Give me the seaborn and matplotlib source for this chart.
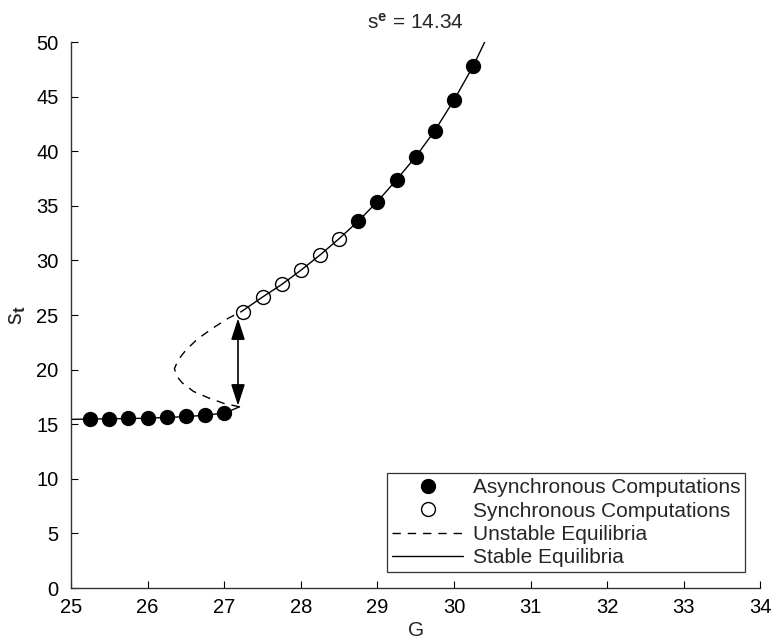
import matplotlib
matplotlib.use("Agg")
import matplotlib.pyplot as plt
import pandas as pd
import seaborn as sns

# equilibrium curve pieces (G, s_t)
stable_low_g = [25.0, 25.5, 26.0, 26.5, 26.8, 27.0, 27.1, 27.2]
stable_low_s = [15.45, 15.5, 15.55, 15.7, 15.85, 16.05, 16.3, 16.6]
unstable_g = [27.2, 27.0, 26.8, 26.6, 26.45, 26.38, 26.35, 26.4, 26.5, 26.65, 26.85, 27.05, 27.22]
unstable_s = [16.6, 16.9, 17.4, 18.0, 18.8, 19.4, 20.1, 20.9, 21.8, 22.8, 23.8, 24.7, 25.3]
stable_up_g = [27.22, 27.5, 27.75, 28.0, 28.25, 28.5, 28.75, 29.0, 29.25, 29.5, 29.75, 30.0, 30.25, 30.4]
stable_up_s = [25.3, 26.65, 27.8, 29.1, 30.5, 32.0, 33.6, 35.4, 37.4, 39.5, 41.9, 44.7, 47.8, 50.0]

# computed points
async_g = [25.25, 25.5, 25.75, 26.0, 26.25, 26.5, 26.75, 27.0,
           28.75, 29.0, 29.25, 29.5, 29.75, 30.0, 30.25]
async_s = [15.5, 15.5, 15.55, 15.6, 15.65, 15.75, 15.85, 16.05,
           33.6, 35.4, 37.4, 39.5, 41.9, 44.7, 47.8]
sync_g = [27.25, 27.5, 27.75, 28.0, 28.25, 28.5]
sync_s = [25.3, 26.65, 27.8, 29.1, 30.5, 32.0]

jump_g = 27.18
jump_lo, jump_hi = 16.7, 24.7

sns.set_style("ticks")
plt.rcParams["font.family"] = ["Liberation Sans", "DejaVu Sans"]
plt.rcParams["mathtext.fontset"] = "custom"
plt.rcParams["mathtext.rm"] = "Liberation Sans"
plt.rcParams["mathtext.bf"] = "Liberation Sans:bold"
plt.rcParams["mathtext.default"] = "regular"
plt.rcParams["xtick.direction"] = "in"
plt.rcParams["ytick.direction"] = "in"

fig = plt.figure(figsize=(7.72, 6.43), dpi=100)
ax = fig.add_axes([0.092, 0.0855, 0.893, 0.849])

low = pd.DataFrame({"G": stable_low_g, "s": stable_low_s})
unst = pd.DataFrame({"G": unstable_g, "s": unstable_s})
up = pd.DataFrame({"G": stable_up_g, "s": stable_up_s})

sns.lineplot(data=low, x="G", y="s", sort=False, color="black", lw=1.0, ax=ax)
sns.lineplot(data=unst, x="G", y="s", sort=False, color="black", lw=1.0,
             ax=ax, dashes=False, linestyle=(0, (6, 5)))
sns.lineplot(data=up, x="G", y="s", sort=False, color="black", lw=1.0, ax=ax)

ax.plot(async_g, async_s, "o", color="black", ms=10, zorder=4)
ax.plot(sync_g, sync_s, "o", mfc="none", mec="black", mew=1.0, ms=10, zorder=4)

ax.annotate("", xy=(jump_g, jump_lo), xytext=(jump_g, jump_hi),
            arrowprops=dict(arrowstyle="<|-|>,head_length=1.3,head_width=0.42",
                            color="black", lw=1.2, shrinkA=0, shrinkB=0))

ax.set_xlim(25, 34)
ax.set_ylim(0, 50)
ax.set_xticks(range(25, 35))
ax.set_yticks(range(0, 55, 5))
ax.tick_params(labelsize=14.5, length=5, width=0.8, colors="black")
ax.tick_params(axis="x", pad=7)
ax.tick_params(axis="y", pad=9)
for sp in ["left", "bottom"]:
    ax.spines[sp].set_linewidth(1.0)
    ax.spines[sp].set_color("#333333")
sns.despine(ax=ax)

ax.set_xlabel("G", fontsize=15, labelpad=3)
ax.set_ylabel("s$_{\\mathbf{t}}$", fontsize=17, labelpad=6)
ax.set_title("s$^{\\mathbf{e}}$ = 14.34", fontsize=15, pad=10)

handles = [
    plt.Line2D([], [], ls="none", marker="o", color="black", ms=10),
    plt.Line2D([], [], ls="none", marker="o", mfc="none", mec="black", ms=10),
    plt.Line2D([], [], ls=(0, (6, 5)), color="black", lw=1.0),
    plt.Line2D([], [], ls="-", color="black", lw=1.0),
]
labels = ["Asynchronous Computations", "Synchronous Computations",
          "Unstable Equilibria", "Stable Equilibria"]
leg = ax.legend(handles, labels, loc="lower right", bbox_to_anchor=(0.978, 0.029),
                fontsize=15, frameon=True, fancybox=False, handlelength=3.4,
                handletextpad=0.45, borderpad=0.25, labelspacing=0.2,
                borderaxespad=0)
leg.get_frame().set_edgecolor("black")
leg.get_frame().set_linewidth(0.9)

fig.savefig("out.png", dpi=100)
